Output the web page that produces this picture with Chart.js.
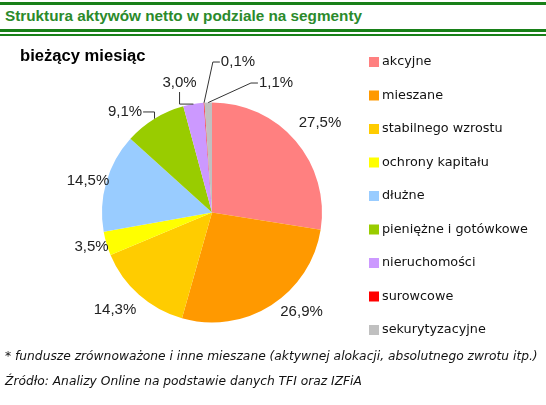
<!DOCTYPE html>
<html>
<head>
<meta charset="utf-8">
<script src="https://cdn.jsdelivr.net/npm/chart.js@4/dist/chart.umd.min.js"></script>
<style>
  html, body { margin: 0; padding: 0; background: #fff; }
  #wrap { position: relative; width: 546px; height: 405px; overflow: hidden; }
  .ln { position: absolute; left: 0; width: 546px; background: #188018; }
  #title { position: absolute; left: 5px; top: 7px; font: bold 15.3px "Liberation Sans", Arial, sans-serif; color: #2b8a2b; white-space: nowrap; }
  #sub { position: absolute; left: 20px; top: 46px; font: bold 16.6px "Liberation Sans", Arial, sans-serif; color: #000; white-space: nowrap; }
  .note { position: absolute; left: 5px; font: italic 12.25px "DejaVu Sans", sans-serif; color: #111; white-space: nowrap; }
  canvas { position: absolute; left: 0; top: 0; }
</style>
</head>
<body>
<div id="wrap">
  <div class="ln" style="top:2px;height:3px"></div>
  <div id="title">Struktura aktywów netto w podziale na segmenty</div>
  <div class="ln" style="top:29px;height:3px"></div>
  <div class="ln" style="top:34px;height:2px"></div>
  <canvas id="chart" width="546" height="405"></canvas>
  <div id="sub">bieżący miesiąc</div>
  <div class="note" style="top:349px">* fundusze zrównoważone i inne mieszane (aktywnej alokacji, absolutnego zwrotu itp.)</div>
  <div class="note" style="top:374px">Źródło: Analizy Online na podstawie danych TFI oraz IZFiA</div>
</div>
<script>
// segmenty funduszy, udział w aktywach netto (%)
const segments = ["akcyjne", "mieszane", "stabilnego wzrostu", "ochrony kapitału", "dłużne",
  "pieniężne i gotówkowe", "nieruchomości", "surowcowe", "sekurytyzacyjne"];
const shares = [27.5, 26.9, 14.3, 3.5, 14.5, 9.1, 3.0, 0.1, 1.1];
const colors = ["#ff8080", "#ff9900", "#ffcc00", "#ffff00", "#99ccff",
  "#99cc00", "#cc99ff", "#ff0000", "#c0c0c0"];

// where each value label sits, as a fraction of the radius from the centre
// third item: side the leader line leaves the text from
const labelSpots = [
  [0.982, -0.814], [0.814, 0.900], [-0.882, 0.886], [-1.095, 0.314], [-1.127, -0.286],
  [-0.791, -0.914, "right"], [-0.295, -1.177, "below"], [0.236, -1.368, "left"], [0.582, -1.177, "left"]
];

const fmt = v => v.toFixed(1).replace(".", ",") + "%";

const sliceLabels = {
  id: "sliceLabels",
  afterDatasetsDraw(chart) {
    const ctx = chart.ctx;
    const meta = chart.getDatasetMeta(0);
    ctx.save();
    ctx.font = '15px "Liberation Sans", Arial, sans-serif';
    ctx.fillStyle = "#222";
    ctx.strokeStyle = "#333";
    ctx.lineWidth = 1;
    ctx.textAlign = "center";
    ctx.textBaseline = "middle";
    meta.data.forEach((arc, i) => {
      const p = arc.getProps(["x", "y", "startAngle", "endAngle", "outerRadius"], true);
      const r = p.outerRadius;
      const spot = labelSpots[i];
      const tx = p.x + spot[0] * r, ty = p.y + spot[1] * r;
      const text = fmt(chart.data.datasets[0].data[i]);
      ctx.fillText(text, tx, ty);
      if (spot[2]) {
        const mid = (p.startAngle + p.endAngle) / 2;
        const ax = p.x + Math.cos(mid) * r, ay = p.y + Math.sin(mid) * r;
        const w = ctx.measureText(text).width;
        let pts;
        if (spot[2] === "right") pts = [[tx + w / 2 + 1, ty], [ax, ty], [ax, ay]];
        else if (spot[2] === "below") pts = [[tx, ty + 9], [tx, ay], [ax, ay]];
        else pts = [[tx - w / 2 - 1, ty], [tx - w / 2 - 8, ty], [ax, ay]];
        ctx.beginPath();
        ctx.moveTo(pts[0][0], pts[0][1]);
        pts.slice(1).forEach(q => ctx.lineTo(q[0], q[1]));
        ctx.stroke();
      }
    });
    ctx.restore();
  }
};

// legend on the right, one item per row
const sideLegend = {
  id: "sideLegend",
  afterDraw(chart) {
    const ctx = chart.ctx;
    const ds = chart.data.datasets[0];
    ctx.save();
    ctx.font = '12.8px "DejaVu Sans", sans-serif';
    ctx.textBaseline = "middle";
    ctx.textAlign = "left";
    chart.data.labels.forEach((lab, i) => {
      const y = 62 + i * 33.5;
      ctx.fillStyle = ds.backgroundColor[i];
      ctx.fillRect(369, y - 5, 10, 10);
      ctx.fillStyle = "#111";
      ctx.fillText(lab, 382, y);
    });
    ctx.restore();
  }
};

const chart = new Chart(document.getElementById("chart"), {
  type: "pie",
  data: {
    labels: segments,
    datasets: [{
      data: shares,
      backgroundColor: colors,
      borderWidth: 0
    }]
  },
  options: {
    responsive: false,
    animation: false,
    layout: { padding: { left: 102, right: 224, top: 102.5, bottom: 82.5 } },
    plugins: {
      legend: { display: false },
      tooltip: { enabled: false }
    }
  },
  plugins: [sliceLabels, sideLegend]
});
</script>
</body>
</html>
